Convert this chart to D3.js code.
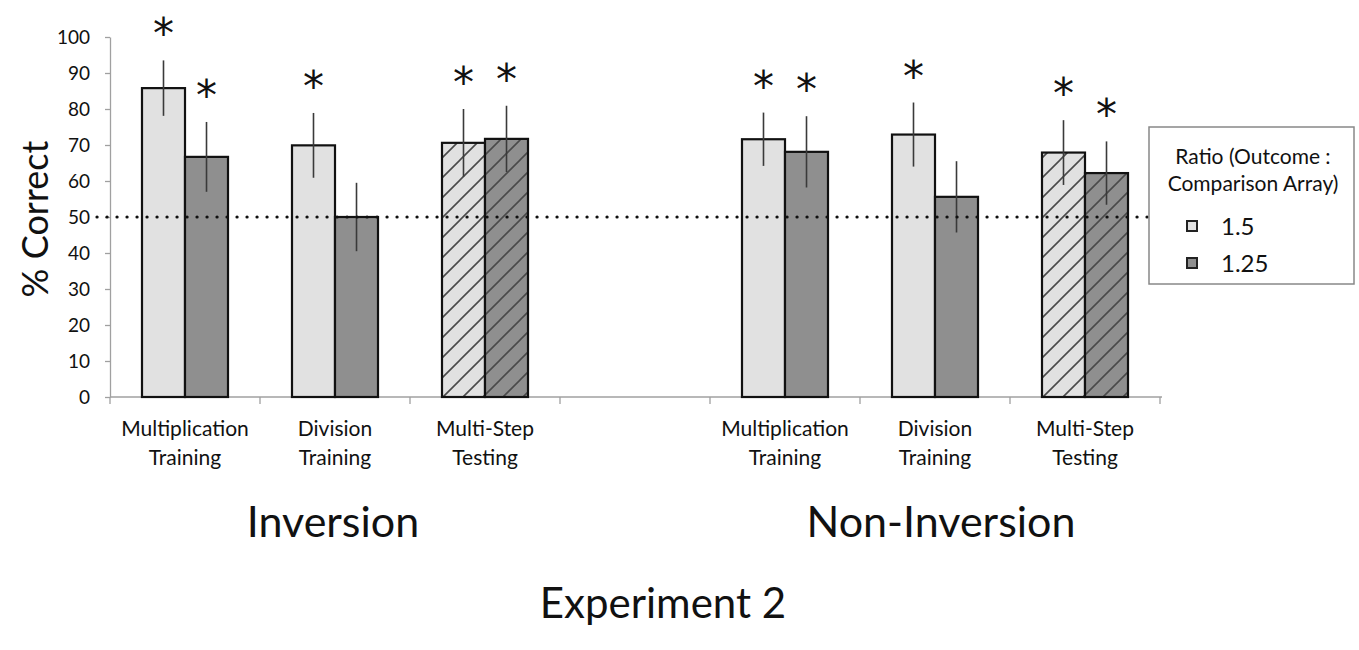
<!DOCTYPE html>
<html>
<head>
<meta charset="utf-8">
<script src="https://cdn.jsdelivr.net/npm/d3@7"></script>
<style>
  body { margin: 0; background: #fff; }
  svg text { font-family: Lato, "Open Sans", sans-serif; fill: #111; }
</style>
</head>
<body>
<svg id="chart" width="1359" height="650"></svg>
<script>
// data
var groups = ["Inversion", "Non-Inversion"];
var conditions = ["Multiplication Training", "Division Training", "Multi-Step Testing"];
var ratios = ["1.5", "1.25"];
var mean15  = [85.8, 69.9, 70.6, 71.6, 72.9, 67.9];
var mean125 = [66.7, 50.0, 71.7, 68.1, 55.6, 62.2];
var err15   = [7.7, 9.0, 9.4, 7.4, 8.9, 9.0];
var err125  = [9.7, 9.5, 9.2, 9.9, 9.9, 8.8];
var star15  = [1, 1, 1, 1, 1, 1];
var star125 = [1, 0, 1, 1, 0, 1];
var yTicks  = [0, 10, 20, 30, 40, 50, 60, 70, 80, 90, 100];
var chanceLevel = 50;

var svg = d3.select("#chart");
var margin = {top: 37, left: 110, bottom: 397, right: 1160};

// slots: 3 conditions, a blank slot, 3 conditions
var slots = ["i0", "i1", "i2", "gap", "n0", "n1", "n2"];
var x0 = d3.scaleBand().domain(slots).range([margin.left, margin.right]);
var x1 = d3.scaleBand().domain(ratios).range([0, x0.bandwidth()]).paddingOuter(0.744);
var y = d3.scaleLinear().domain([0, 100]).range([margin.bottom, margin.top]);

var fills = {"1.5": "#e1e1e1", "1.25": "#8f8f8f"};

// hatch patterns for the multi-step bars
var defs = svg.append("defs");
ratios.forEach(function(r, i) {
  var p = defs.append("pattern")
    .attr("id", "hatch" + i)
    .attr("patternUnits", "userSpaceOnUse")
    .attr("width", 20).attr("height", 20);
  p.append("rect").attr("width", 20).attr("height", 20).attr("fill", fills[r]);
  p.append("path")
    .attr("d", "M-5,5 L5,-5 M0,20 L20,0 M15,25 L25,15")
    .attr("stroke", "#4a4a4a").attr("stroke-width", 1.6);
});

// build rows
var rows = [];
groups.forEach(function(g, gi) {
  conditions.forEach(function(c, ci) {
    var k = gi * 3 + ci;
    var slot = (gi == 0 ? "i" : "n") + ci;
    rows.push({slot: slot, cond: ci, ratio: "1.5", ri: 0, value: mean15[k], err: err15[k], star: star15[k]});
    rows.push({slot: slot, cond: ci, ratio: "1.25", ri: 1, value: mean125[k], err: err125[k], star: star125[k]});
  });
});

// y axis
var yAxis = svg.append("g").attr("transform", "translate(" + margin.left + ",0)")
  .call(d3.axisLeft(y).tickValues(yTicks).tickSize(5).tickPadding(15).tickSizeOuter(0));
yAxis.select(".domain").attr("stroke", "#a0a0a0").attr("stroke-width", 1.3);
yAxis.selectAll(".tick line").attr("stroke", "#a0a0a0").attr("stroke-width", 1.3);
yAxis.selectAll(".tick text").style("font-size", "19px").attr("fill", "#222");

// x axis line and ticks at slot boundaries
svg.append("line")
  .attr("x1", margin.left).attr("x2", margin.right + 2)
  .attr("y1", y(0)).attr("y2", y(0))
  .attr("stroke", "#a0a0a0").attr("stroke-width", 1.3);
var bounds = slots.map(function(s) { return x0(s); }).concat([margin.right]);
svg.selectAll(".xtick").data(bounds).enter().append("line")
  .attr("class", "xtick")
  .attr("x1", function(d) { return d; }).attr("x2", function(d) { return d; })
  .attr("y1", y(0)).attr("y2", y(0) + 7)
  .attr("stroke", "#a0a0a0").attr("stroke-width", 1.3);

// bars
svg.selectAll(".bar").data(rows).enter().append("rect")
  .attr("class", "bar")
  .attr("x", function(d) { return x0(d.slot) + x1(d.ratio); })
  .attr("y", function(d) { return y(d.value); })
  .attr("width", x1.bandwidth())
  .attr("height", function(d) { return y(0) - y(d.value); })
  .attr("fill", function(d) { return d.cond == 2 ? "url(#hatch" + d.ri + ")" : fills[d.ratio]; })
  .attr("stroke", "#111").attr("stroke-width", 2.2);

// error bars
svg.selectAll(".err").data(rows).enter().append("line")
  .attr("class", "err")
  .attr("x1", function(d) { return x0(d.slot) + x1(d.ratio) + x1.bandwidth() / 2; })
  .attr("x2", function(d) { return x0(d.slot) + x1(d.ratio) + x1.bandwidth() / 2; })
  .attr("y1", function(d) { return y(d.value + d.err); })
  .attr("y2", function(d) { return y(d.value - d.err); })
  .attr("stroke", "#3a3a3a").attr("stroke-width", 1.6);

// significance stars
svg.selectAll(".star").data(rows.filter(function(d) { return d.star; })).enter().append("text")
  .attr("class", "star")
  .attr("x", function(d) { return x0(d.slot) + x1(d.ratio) + x1.bandwidth() / 2; })
  .attr("y", function(d) { return y(d.value + d.err) - 12; })
  .attr("text-anchor", "middle")
  .style("font-family", "'DejaVu Sans', sans-serif")
  .style("font-size", "42px")
  .text("*");

// chance line
svg.append("line")
  .attr("x1", 97).attr("x2", 1148)
  .attr("y1", y(chanceLevel)).attr("y2", y(chanceLevel))
  .attr("stroke", "#111").attr("stroke-width", 3.2)
  .attr("stroke-linecap", "round")
  .attr("stroke-dasharray", "0.1,9.9");

// category labels
groups.forEach(function(g, gi) {
  conditions.forEach(function(c, ci) {
    var slot = (gi == 0 ? "i" : "n") + ci;
    var t = svg.append("text")
      .attr("x", x0(slot) + x0.bandwidth() / 2)
      .attr("y", 436)
      .attr("text-anchor", "middle")
      .style("font-size", "21px")
      .attr("fill", "#1a1a1a");
    c.split(" ").forEach(function(w, wi) {
      t.append("tspan").attr("x", x0(slot) + x0.bandwidth() / 2).attr("dy", wi == 0 ? 0 : 29).text(w);
    });
  });
  // group title
  var a = x0((gi == 0 ? "i" : "n") + "0"), b = x0((gi == 0 ? "i" : "n") + "2") + x0.bandwidth();
  svg.append("text")
    .attr("x", (a + b) / 2 + (gi == 0 ? -2 : 6)).attr("y", 537)
    .attr("text-anchor", "middle")
    .style("font-size", "43px")
    .text(g);
});

// title
svg.append("text")
  .attr("x", 663).attr("y", 618)
  .attr("text-anchor", "middle")
  .style("font-size", "42px")
  .text("Experiment 2");

// y axis title
svg.append("text")
  .attr("transform", "translate(48,219) rotate(-90)")
  .attr("text-anchor", "middle")
  .style("font-size", "36px")
  .text("% Correct");

// legend
var lg = svg.append("g").attr("transform", "translate(1149,127)");
lg.append("rect").attr("width", 205).attr("height", 157)
  .attr("fill", "#fff").attr("stroke", "#888").attr("stroke-width", 1.5);
lg.append("text").attr("x", 104).attr("y", 37).attr("text-anchor", "middle")
  .style("font-size", "21px").text("Ratio (Outcome :");
lg.append("text").attr("x", 104).attr("y", 64).attr("text-anchor", "middle")
  .style("font-size", "21px").text("Comparison Array)");
ratios.forEach(function(r, i) {
  lg.append("rect").attr("x", 38).attr("y", 94 + i * 37).attr("width", 10).attr("height", 10)
    .attr("fill", fills[r]).attr("stroke", "#222").attr("stroke-width", 2);
  lg.append("text").attr("x", 72).attr("y", 108 + i * 37)
    .style("font-size", "24px").text(r);
});
</script>
</body>
</html>
